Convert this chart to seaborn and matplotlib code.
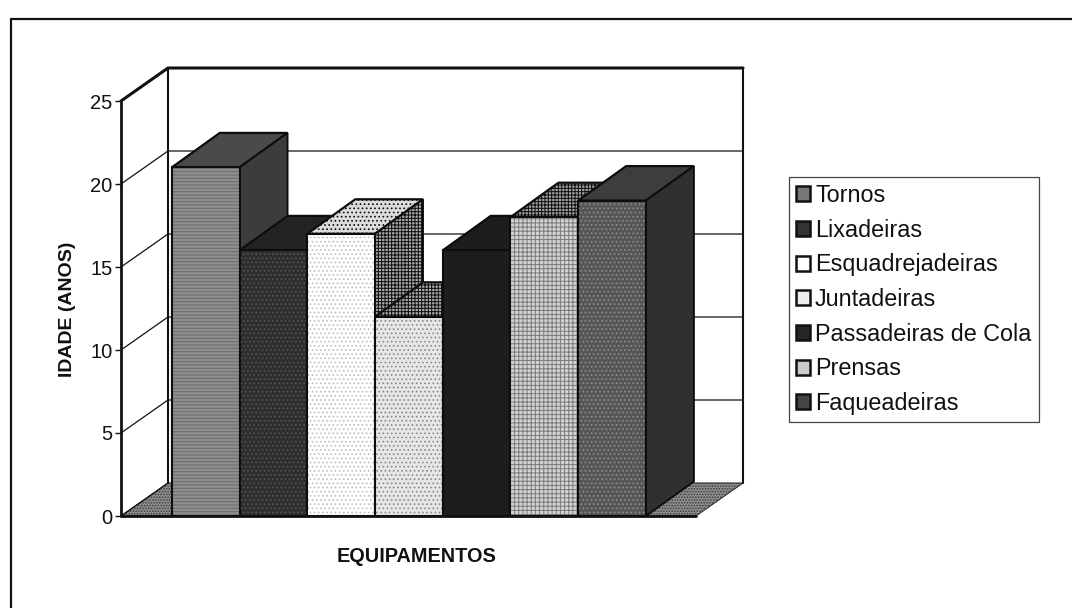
import matplotlib
matplotlib.use("Agg")
import matplotlib.pyplot as plt
import pandas as pd
import seaborn as sns
from matplotlib.lines import Line2D
from matplotlib.patches import Patch, Polygon, Rectangle

equipamentos = ["Tornos", "Lixadeiras", "Esquadrejadeiras", "Juntadeiras",
                "Passadeiras de Cola", "Prensas", "Faqueadeiras"]
idade = [21, 16, 17, 12, 16, 18, 19]
y_ticks = [0, 5, 10, 15, 20, 25]

front = ["#8f8f8f", "#2e2e2e", "#ffffff", "#e6e6e6", "#1d1d1d", "#d2d2d2", "#565656"]
front_hatch = ["-----", "....", "....", "....", "", "++++", "...."]
front_ink = ["#6a6a6a", "#555555", "#bdbdbd", "#8a8a8a", "#1d1d1d", "#7a7a7a", "#8e8e8e"]
top = ["#4a4a4a", "#232323", "#dcdcdc", "#a8a8a8", "#1d1d1d", "#a0a0a0", "#3d3d3d"]
top_hatch = ["", "", "....", "+++++", "", "+++++", ""]
side = ["#3c3c3c", "#232323", "#a8a8a8", "#808080", "#1a1a1a", "#666666", "#303030"]
side_hatch = ["", "", "+++++", "", "", "", ""]
legend_face = ["#777777", "#333333", "#ffffff", "#eeeeee", "#262626", "#cccccc", "#444444"]

sns.set_theme(style="white")
plt.rcParams["font.family"] = ["Liberation Sans", "DejaVu Sans"]
plt.rcParams["hatch.linewidth"] = 0.7

W, H = 1072, 608
fig = plt.figure(figsize=(W / 100, H / 100), dpi=100, facecolor="white")
L, R, B, T = 121, 696, 516, 101
ax = fig.add_axes([L / W, 1 - B / H, (R - L) / W, (B - T) / H], facecolor="none")

df = pd.DataFrame({"equip": equipamentos, "idade": idade})
sns.barplot(data=df, x="equip", y="idade", hue="equip", dodge=False, width=1.0,
            palette=dict(zip(equipamentos, front)), saturation=1, legend=False,
            linewidth=0, ax=ax)

ax.set_ylim(0, 25)
ax.set_xlim(-1.25, 7.24)
ux = (R - L) / (ax.get_xlim()[1] - ax.get_xlim()[0])
uy = (B - T) / 25
wx, wy = 47 / ux, 33 / uy       # depth of the walls, data units
bx, by = 48 / ux, 34.5 / uy     # depth of the bars, data units
x0, x1 = ax.get_xlim()

# floor
ax.add_patch(Polygon([(x0, 0), (x1, 0), (x1 + wx, wy), (x0 + wx, wy)], closed=True,
                     facecolor="#8c8c8c", edgecolor="#333333", hatch="......",
                     lw=0.8, zorder=1, clip_on=False))
# walls and gridlines
for v in y_ticks:
    thick = v == 25
    ax.plot([x0, x0 + wx, x1 + wx] if thick or v else [x0, x0 + wx],
            [v, v + wy, v + wy] if thick or v else [v, v + wy],
            color="#111111", lw=2.2 if thick else 0.9, zorder=1.5, clip_on=False)
ax.plot([x0 + wx, x0 + wx], [wy, 25 + wy], color="#111111", lw=1.5, zorder=1.5, clip_on=False)
ax.plot([x1 + wx, x1 + wx], [wy, 25 + wy], color="#111111", lw=1.5, zorder=1.5, clip_on=False)
ax.plot([x0, x0], [0, 25], color="#111111", lw=2, zorder=1.6, clip_on=False)

# bars in perspective, grown from the bars seaborn drew
bars = [c for cont in ax.containers for c in cont]
for i, p in enumerate(bars):
    z = 3 + i * 0.1
    a, b, h = p.get_x(), p.get_x() + p.get_width(), p.get_height()
    p.set_zorder(z + 0.05)
    p.set_edgecolor(front_ink[i])
    p.set_hatch(front_hatch[i])
    ax.add_patch(Polygon([(a, h), (b, h), (b + bx, h + by), (a + bx, h + by)], closed=True,
                         facecolor=top[i], edgecolor="#0d0d0d", hatch=top_hatch[i],
                         lw=1.6, zorder=z, clip_on=False))
    ax.add_patch(Polygon([(b, 0), (b + bx, by), (b + bx, h + by), (b, h)], closed=True,
                         facecolor=side[i], edgecolor="#0d0d0d", hatch=side_hatch[i],
                         lw=1.4, zorder=z, clip_on=False))
    ax.add_patch(Rectangle((a, 0), b - a, h, fill=False, edgecolor="#0d0d0d",
                           lw=1.5, zorder=z + 0.07, clip_on=False))

ax.plot([x0, x1], [0, 0], color="#111111", lw=2, zorder=4, clip_on=False)

sns.despine(ax=ax, left=True, bottom=True)
ax.set_xticks([])
ax.set_yticks(y_ticks)
ax.tick_params(axis="y", left=True, length=4, width=1, color="#111111", pad=2,
               labelsize=14.5, labelcolor="#111111")
ax.set_xlabel("EQUIPAMENTOS", fontsize=14.3, fontweight="bold", color="#111111", va="center")
ax.set_ylabel("IDADE (ANOS)", fontsize=14, fontweight="bold", color="#111111", va="center")
ax.xaxis.set_label_coords((417 - L) / (R - L), (B - 556) / (B - T), transform=ax.transAxes)
ax.yaxis.set_label_coords((67 - L) / (R - L), (B - 309) / (B - T), transform=ax.transAxes)

handles = [Patch(facecolor=legend_face[i], edgecolor="#111111", lw=1.8)
           for i in range(len(equipamentos))]
leg = fig.legend(handles, equipamentos, loc="upper left",
                 bbox_to_anchor=(789 / W, 1 - 177 / H), bbox_transform=fig.transFigure,
                 fontsize=16.8, frameon=True, fancybox=False, framealpha=1, edgecolor="#444444",
                 handlelength=0.6, handleheight=0.6, handletextpad=0.22, labelspacing=0.5,
                 borderpad=0.3, borderaxespad=0, labelcolor="#111111")
leg.get_frame().set_linewidth(0.9)

# outer frame of the chart (open to the right and below in the scan)
for xs, ys in [((11, 11), (608, 19)), ((11, 1072), (19, 19))]:
    fig.add_artist(Line2D([x / W for x in xs], [1 - y / H for y in ys],
                          color="#111111", lw=1.6))

fig.savefig("out.png", dpi=100, facecolor="white")
